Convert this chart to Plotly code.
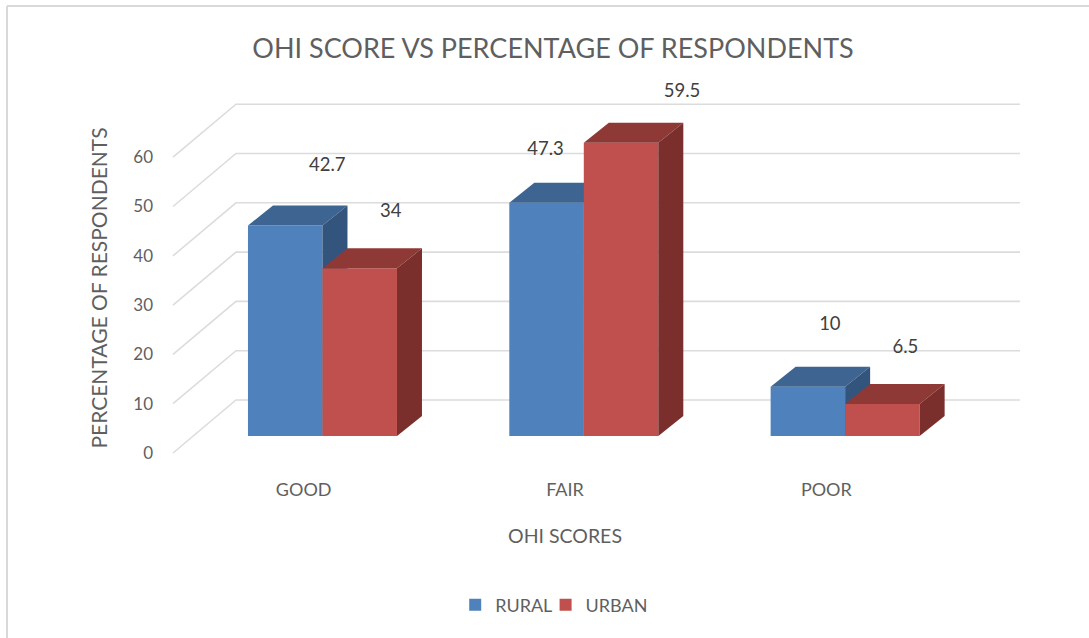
import plotly.graph_objects as go

categories = ["GOOD", "FAIR", "POOR"]
rural = [42.7, 47.3, 10]
urban = [34, 59.5, 6.5]
y_ticks = [0, 10, 20, 30, 40, 50, 60]

# Layout geometry (pixels of the 1089x638 page)
FL, FR = 173, 957            # front plane, left and right
AXIS_BOTTOM = 465            # where the x axis sits
PL, PR, PT, PB = 109, 1021, 60, 516   # plot box, symmetric round the axis-title centres
Y0_PX = 453
PX_Y = 4.93
PX_X = (FR - FL) / 3
FONT = "Lato"
GREY = "#5F5F5F"
GRID = "#DCDCDC"

FRONT_L, FRONT_R = -0.5, 2.5
X_RANGE = [FRONT_L - (FL - PL) / PX_X, FRONT_R + (PR - FR) / PX_X]
Y_RANGE = [-(PB - Y0_PX) / PX_Y, (Y0_PX - PT) / PX_Y]

WALL_DX, WALL_DY = 63 / PX_X, 53 / PX_Y
BAR_SHIFT = 18.8 / PX_X
BAR_W = 74.5 / PX_X
BAR_BASE = 3.45
DEPTH_DX, DEPTH_DY = 25 / PX_X, 20 / PX_Y

# Data label offsets from the top centre of each bar's front face, in pixels
rural_label_off = [(42, 59), (-1, 52), (22, 61)]
urban_label_off = [(31, 56), (61, 50), (23, 56)]

fig = go.Figure()

# Walls: side-wall diagonals and back-wall gridlines
gx, gy = [], []
for t in y_ticks:
    gx += [FRONT_L, FRONT_L + WALL_DX, FRONT_R + WALL_DX, None]
    gy += [t, t + WALL_DY, t + WALL_DY, None]
fig.add_trace(go.Scatter(x=gx, y=gy, mode="lines", line=dict(color=GRID, width=1.6),
                         showlegend=False, hoverinfo="skip", cliponaxis=False))


def add_series(name, values, left_edge, front, top, side, xa, ya, legend):
    xs = [i + BAR_SHIFT + left_edge for i in range(len(values))]
    fig.add_trace(go.Bar(x=xs, y=values, base=BAR_BASE, width=BAR_W, offset=0, name=name,
                         marker=dict(color=front, line=dict(width=0)), xaxis=xa, yaxis=ya,
                         legend=legend))
    for x0, v in zip(xs, values):
        h = BAR_BASE + v
        x1 = x0 + BAR_W
        fig.add_trace(go.Scatter(
            x=[x0, x1, x1 + DEPTH_DX, x0 + DEPTH_DX, x0],
            y=[h, h, h + DEPTH_DY, h + DEPTH_DY, h],
            fill="toself", fillcolor=top, mode="lines", line=dict(width=0),
            showlegend=False, hoverinfo="skip", cliponaxis=False, xaxis=xa, yaxis=ya))
        fig.add_trace(go.Scatter(
            x=[x1, x1 + DEPTH_DX, x1 + DEPTH_DX, x1, x1],
            y=[h, h + DEPTH_DY, BAR_BASE + DEPTH_DY, BAR_BASE, h],
            fill="toself", fillcolor=side, mode="lines", line=dict(width=0),
            showlegend=False, hoverinfo="skip", cliponaxis=False, xaxis=xa, yaxis=ya))
    return xs


rx = add_series("RURAL", rural, -BAR_W, "#4F81BD", "#3E6492", "#33547C", "x2", "y2", "legend")
ux = add_series("URBAN", urban, 0, "#C0504D", "#8F3937", "#7A2F2D", "x3", "y3", "legend2")

# Data labels
lx, ly, lt = [], [], []
for xs, vals, offs in ((rx, rural, rural_label_off), (ux, urban, urban_label_off)):
    for x0, v, (dx, dy) in zip(xs, vals, offs):
        lx.append(x0 + BAR_W / 2 + dx / PX_X)
        ly.append(BAR_BASE + v + dy / PX_Y)
        lt.append(str(v))
fig.add_trace(go.Scatter(x=lx, y=ly, text=lt, mode="text", textposition="middle center",
                         textfont=dict(family=FONT, size=18.5, color="#404040"),
                         showlegend=False, hoverinfo="skip", cliponaxis=False,
                         xaxis="x3", yaxis="y3"))

W, H = PR - PL, PB - PT
hidden = dict(range=X_RANGE, overlaying="x", visible=False)
hidden_y = dict(range=Y_RANGE, overlaying="y", visible=False)
legend_style = dict(orientation="h", xref="container", yref="container", y=1 - 605 / 638,
                    xanchor="left", yanchor="middle", bgcolor="rgba(0,0,0,0)",
                    font=dict(family=FONT, size=18, color=GREY), itemwidth=30)
fig.update_layout(
    width=1089, height=638, autosize=False,
    margin=dict(l=PL, r=1089 - PR, t=PT, b=638 - PB, autoexpand=False),
    paper_bgcolor="white", plot_bgcolor="white",
    barmode="overlay",
    font=dict(family=FONT, color=GREY),
    title=dict(text="OHI SCORE VS PERCENTAGE OF RESPONDENTS", xref="container", yref="container",
               x=553 / 1089, xanchor="center", y=1 - 49 / 638, yanchor="middle",
               font=dict(family=FONT, size=27, color=GREY)),
    xaxis=dict(range=X_RANGE, tickmode="array", tickvals=[0, 1, 2], ticktext=categories,
               showgrid=False, zeroline=False, showline=False, ticks="",
               anchor="free", position=(PB - AXIS_BOTTOM) / H,
               ticklabelstandoff=12, tickfont=dict(family=FONT, size=18, color=GREY),
               title=dict(text="OHI SCORES", font=dict(family=FONT, size=19.5, color=GREY), standoff=30)),
    yaxis=dict(range=Y_RANGE, tickmode="array", tickvals=y_ticks,
               showgrid=False, zeroline=False, showline=False, ticks="",
               anchor="free", position=(FL - PL) / W,
               ticklabelstandoff=20, tickfont=dict(family=FONT, size=17, color=GREY),
               title=dict(text="PERCENTAGE OF RESPONDENTS", font=dict(family=FONT, size=21, color=GREY), standoff=18)),
    xaxis2=hidden, yaxis2=hidden_y, xaxis3=hidden, yaxis3=hidden_y,
    legend=dict(x=0.418, **legend_style),
    legend2=dict(x=0.501, **legend_style),
    shapes=[
        dict(type="line", xref="paper", yref="paper",
             x0=(7 - PL) / W, x1=(7 - PL) / W,
             y0=(PB - 6) / H, y1=(PB - 638) / H,
             line=dict(color="#D9D9D9", width=2)),
        dict(type="line", xref="paper", yref="paper",
             x0=(7 - PL) / W, x1=(1089 - PL) / W,
             y0=(PB - 6) / H, y1=(PB - 6) / H,
             line=dict(color="#D9D9D9", width=2)),
    ],
)

fig.write_html("out.html", config={"displayModeBar": False},
               post_script="document.body.style.margin='0';")
